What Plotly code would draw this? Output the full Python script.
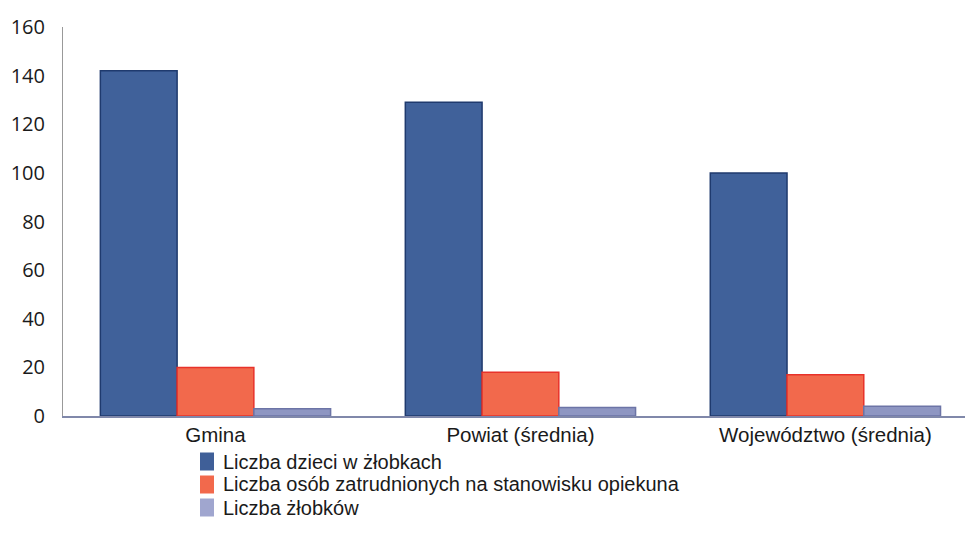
import plotly.graph_objects as go

categories = ["Gmina", "Powiat (średnia)", "Województwo (średnia)"]
series_names = [
    "Liczba dzieci w żłobkach",
    "Liczba osób zatrudnionych na stanowisku opiekuna",
    "Liczba żłobków",
]
dzieci = [142, 129, 100]
opiekunowie = [20, 18, 17]
zlobki = [3, 3.5, 4]
y_ticks = [0, 20, 40, 60, 80, 100, 120, 140, 160]

colors = ["#40619a", "#f2694c", "#8e96c2"]
edges = ["#1f3a6e", "#e8322a", "#6c74a6"]
swatch_colors = ["#3f5f98", "#f2694c", "#a0a6cf"]

# page body has an 8px margin; figure sized to fit the 973x543 window
OFF = 8
W, H = 973 - OFF, 543 - OFF
ML, MR, MT, MB = 63 - OFF, 0, 27 - OFF, 127
PW, PH = W - ML - MR, H - MT - MB


def px_x(px):
    return (px - OFF - ML) / PW


def px_y(py):
    return (H - MB - (py - OFF)) / PH


fig = go.Figure()
for name, vals, c, e in zip(series_names, [dzieci, opiekunowie, zlobki], colors, edges):
    fig.add_trace(go.Bar(
        x=categories, y=vals, name=name, showlegend=False,
        marker=dict(color=c, line=dict(color=e, width=1.5)),
    ))

# Legend drawn as swatches + text, laid out like the original
row_centers = [461.5, 484.5, 507.5]
shapes = []
annotations = []
for name, sc, cy in zip(series_names, swatch_colors, row_centers):
    shapes.append(dict(
        type="rect", xref="paper", yref="paper",
        x0=px_x(200), x1=px_x(214), y0=px_y(cy + 9), y1=px_y(cy - 9),
        fillcolor=sc, line=dict(width=0),
    ))
    annotations.append(dict(
        text=name, xref="paper", yref="paper", x=px_x(222), y=px_y(cy),
        xanchor="left", yanchor="middle", showarrow=False, borderpad=0,
        font=dict(family="Liberation Sans, Arial, sans-serif", size=20, color="#1a1a1a"),
    ))

fig.update_layout(
    width=W, height=H,
    margin=dict(l=ML, r=MR, t=MT, b=MB, autoexpand=False),
    paper_bgcolor="white", plot_bgcolor="white",
    barmode="group", bargap=0.245, bargroupgap=0,
    showlegend=False,
    font=dict(family="Liberation Sans, Arial, sans-serif", size=21, color="#1a1a1a"),
    xaxis=dict(
        range=[-0.5, 2.484], showgrid=False, showline=True, automargin=False,
        linecolor="#8088aa", linewidth=1.5, ticks="",
        tickfont=dict(family="Liberation Sans, Arial, sans-serif", size=20.5),
    ),
    yaxis=dict(
        range=[0, 160], tickvals=y_ticks, showgrid=False, zeroline=False,
        showline=True, linecolor="#999999", linewidth=1, ticks="", automargin=False,
        ticklabelstandoff=13, tickfont=dict(family="Open Sans, sans-serif", size=20),
    ),
    shapes=shapes,
    annotations=annotations,
)

fig.write_html("out.html")
